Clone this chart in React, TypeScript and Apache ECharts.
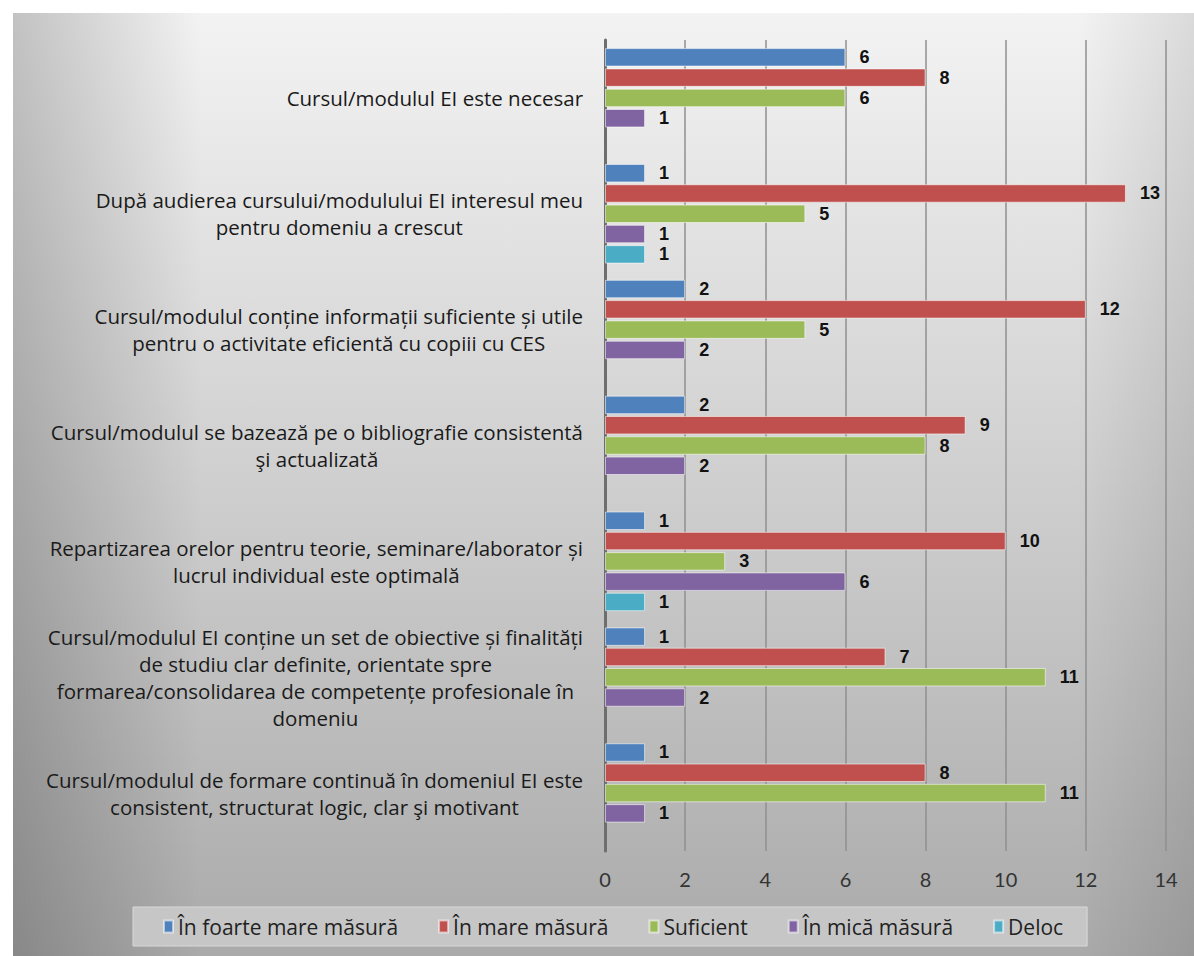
import React, { useEffect, useRef } from "react";
import * as echarts from "echarts";

const categories = [
  "Cursul/modulul EI este necesar",
  "După audierea cursului/modulului EI interesul meu\npentru domeniu a crescut",
  "Cursul/modulul conține informații suficiente și utile\npentru o activitate eficientă cu copiii cu CES",
  "Cursul/modulul se bazează pe o bibliografie consistentă\nşi actualizată",
  "Repartizarea orelor pentru teorie, seminare/laborator și\nlucrul individual este optimală",
  "Cursul/modulul EI conține un set de obiective și finalități\nde studiu clar definite, orientate spre\nformarea/consolidarea de competențe profesionale în\ndomeniu",
  "Cursul/modulul de formare continuă în domeniul EI este\nconsistent, structurat logic, clar şi motivant",
];

const seriesNames = [
  "În foarte mare măsură",
  "În mare măsură",
  "Suficient",
  "În mică măsură",
  "Deloc",
];

const foarteMare = [6, 1, 2, 2, 1, 1, 1];
const mare = [8, 13, 12, 9, 10, 7, 8];
const suficient = [6, 5, 5, 8, 3, 11, 11];
const mica = [1, 1, 2, 2, 6, 2, 1];
const deloc = [null, 1, null, null, 1, null, null];

const colors = ["#4F81BD", "#C0504D", "#9BBB59", "#8064A2", "#4BACC6"];

const FONT = "'Open Sans', Lato, sans-serif";

export default function App() {
  const ref = useRef<HTMLDivElement>(null);
  useEffect(() => {
    if (!ref.current) return;
    const chart = echarts.init(ref.current, null, { renderer: "svg" });
    const allData = [foarteMare, mare, suficient, mica, deloc];
    chart.setOption({
      animation: false,
      backgroundColor: "transparent",
      color: colors,
      textStyle: { fontFamily: FONT },
      grid: { left: 605, right: 28, top: 40, bottom: 105 },
      xAxis: {
        type: "value",
        min: 0,
        max: 14,
        interval: 2,
        axisLine: { show: false },
        axisTick: { show: false },
        axisLabel: {
          color: "#333",
          fontSize: 20,
          margin: 18,
          fontFamily: "Lato, sans-serif",
        },
        splitLine: { show: true, lineStyle: { color: "#8f8f8f", width: 1.5 } },
      },
      yAxis: {
        type: "category",
        inverse: true,
        data: categories,
        axisLine: { show: true, lineStyle: { color: "#6e6e6e", width: 3 } },
        axisTick: { show: false },
        axisLabel: {
          margin: 22,
          color: "#1a1a1a",
          fontSize: 20.5,
          lineHeight: 27,
          fontFamily: FONT,
          formatter: (v: string) =>
            v
              .split("\n")
              .map((l) => "{c|" + l + "}")
              .join("\n"),
          rich: {
            c: { align: "center", fontSize: 20.5, lineHeight: 27, color: "#1a1a1a", fontFamily: FONT },
          },
        },
      },
      legend: {
        left: 133,
        top: 907,
        padding: [9, 24, 9, 30],
        itemGap: 40,
        itemWidth: 9,
        itemHeight: 12,
        icon: "rect",
        backgroundColor: "#c6c6c6",
        borderColor: "#d8d8d8",
        borderWidth: 1,
        textStyle: { fontSize: 21, color: "#222", fontFamily: FONT },
        data: seriesNames,
      },
      series: seriesNames.map((name, i) => ({
        name,
        type: "bar",
        data: allData[i],
        barCategoryGap: "14%",
        barGap: "10%",
        itemStyle: {
          color: colors[i],
          borderColor: "rgba(255,255,255,0.55)",
          borderWidth: 1,
        },
        label: {
          show: true,
          position: "right",
          distance: 14,
          color: "#111",
          fontWeight: "bold",
          fontSize: 18,
          lineHeight: 18,
          fontFamily: "'Liberation Sans', Arial, sans-serif",
        },
      })),
    });
    return () => chart.dispose();
  }, []);

  return (
    <div
      style={{
        position: "fixed",
        left: 0,
        top: 0,
        width: 1194,
        height: 956,
        background: "#ffffff",
      }}
    >
      <div
        style={{
          position: "absolute",
          left: 13,
          top: 13,
          width: 1181,
          height: 943,
          background:
            "linear-gradient(to right, rgba(0,0,0,0.2) 0%, rgba(0,0,0,0) 16%, rgba(0,0,0,0) 90%, rgba(0,0,0,0.1) 100%), linear-gradient(to bottom, #f3f3f3 0%, #d6d6d6 40%, #aaaaaa 100%)",
        }}
      />
      <div ref={ref} style={{ position: "absolute", left: 0, top: 0, width: 1194, height: 956 }} />
    </div>
  );
}
